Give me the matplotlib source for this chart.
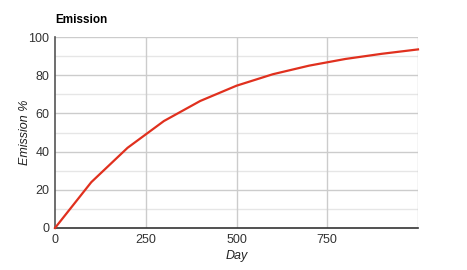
import numpy as np
import matplotlib
matplotlib.use("Agg")
import matplotlib.pyplot as plt

days = [0, 100, 200, 300, 400, 500, 600, 700, 800, 900, 1000]
emission = [0, 24, 42, 56, 66.5, 74.5, 80.5, 85, 88.5, 91.2, 93.5]
x_ticks = [0, 250, 500, 750]
y_ticks = [0, 20, 40, 60, 80, 100]

plt.rcParams['font.family'] = ['Liberation Sans', 'DejaVu Sans']
fig = plt.figure(figsize=(4.67, 2.70), dpi=100)
ax = fig.add_axes([55/467, 42/270, 363/467, 191/270])

for y in range(10, 100, 10):
    c = '#cccccc' if y % 20 == 0 else '#e6e6e6'
    ax.axhline(y, color=c, lw=1.0, zorder=0)
ax.axhline(100, color='#cccccc', lw=1.0, zorder=0)
for x in [250, 500, 750, 1000]:
    ax.axvline(x, color='#cccccc', lw=1.0, zorder=0)

ax.plot(days, emission, color='#e0301e', lw=1.6, zorder=3, clip_on=False)

ax.set_xlim(0, 1000)
ax.set_ylim(0, 100)
ax.set_xticks(x_ticks)
ax.set_yticks(y_ticks)
ax.tick_params(length=0, labelsize=9, labelcolor='#333333', pad=4)
for s in ['top', 'right']:
    ax.spines[s].set_visible(False)
ax.spines['left'].set_color('#555555')
ax.spines['bottom'].set_color('#333333')
ax.spines['left'].set_linewidth(1.2)
ax.spines['bottom'].set_linewidth(1.2)

ax.set_xlabel('Day', style='italic', fontsize=9, color='#222222', labelpad=3)
ax.set_ylabel('Emission %', style='italic', fontsize=9, color='#222222', labelpad=-2)
fig.text(55/467, 1 - 20/270, 'Emission', fontsize=8.5, fontweight='bold', va='center', ha='left')

fig.savefig('out.png', dpi=100)
